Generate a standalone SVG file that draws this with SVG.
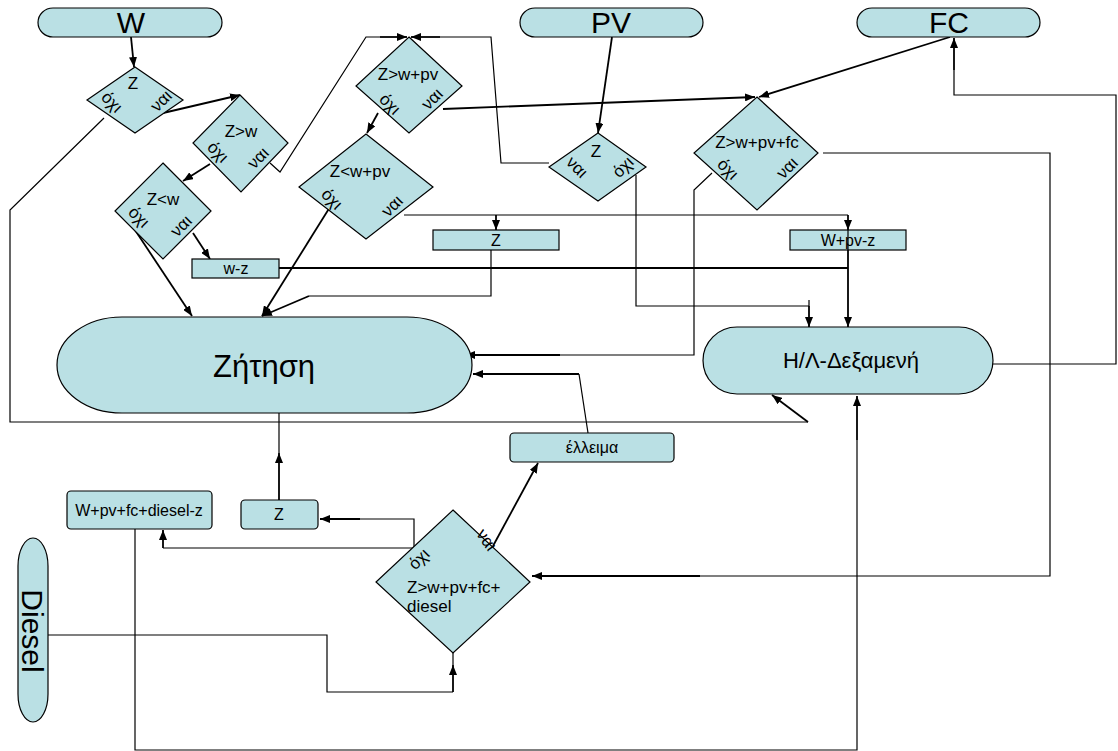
<svg xmlns="http://www.w3.org/2000/svg" width="1118" height="751" viewBox="0 0 1118 751">
<defs>
<marker id="ah" viewBox="0 0 10 8" refX="10" refY="4" markerWidth="10" markerHeight="8" markerUnits="userSpaceOnUse" orient="auto">
<path d="M0,0 L10,4 L0,8 Z" fill="#000"/>
</marker>
</defs>
<style>
.sh{fill:#bae0e4;stroke:#000;stroke-width:1.2}
.t{font-family:"Liberation Sans",Arial,sans-serif;fill:#000}
.big{font-size:30px;text-anchor:middle}
.d{font-size:17px;text-anchor:middle}
.lb{font-size:16px;text-anchor:middle}
.c{fill:none;stroke:#000;stroke-width:1.2}
.k{fill:none;stroke:#000;stroke-width:1.8}
.a{fill:none;stroke:#000;stroke-width:1.8;marker-end:url(#ah)}
</style>
<rect width="1118" height="751" fill="#fff"/>

<g id="connectors">
<path class="a" d="M131,37 L134,67"/>
<path class="a" d="M163,113 L240,95"/>
<path class="c" d="M104,118 L10,210 L10,422 L808,422"/>
<path class="a" d="M808,422 L772,395"/>
<path class="a" d="M210,164 L183,181"/>
<path class="c" d="M270,163 L280,172 L366,37 L380,37"/>
<path class="a" d="M380,37 L407,37"/>
<path class="c" d="M549,163 L501,163 L491,37 L440,37"/>
<path class="a" d="M440,37 L411,37"/>
<path class="a" d="M378,113 L367,133"/>
<path class="a" d="M443,109 L755,97"/>
<path class="a" d="M612,37 L598,133"/>
<path class="a" d="M950,37 L759,97"/>
<path class="c" d="M993,364 L1116,364 L1116,95 L954,95 L954,70"/>
<path class="a" d="M954,70 L954,38"/>
<path class="c" d="M404,215 L848,215"/>
<path class="a" d="M496,215 L496,230"/>
<path class="a" d="M848,215 L848,230"/>
<path class="c" d="M491,250 L491,296 L309,296"/>
<path class="a" d="M309,296 L262,316"/>
<path class="a" d="M330,207 L262,316"/>
<path class="a" d="M133,227 L192,316"/>
<path class="a" d="M193,233 L210,259"/>
<path class="k" d="M279,268 L848,268"/>
<path class="c" d="M636,175 L636,306 L809,306 L809,300"/>
<path class="a" d="M809,306 L809,327"/>
<path class="c" d="M712,173 L694,190 L694,355 L560,355"/>
<path class="a" d="M560,355 L465,355"/>
<path class="c" d="M823,153 L1050,153 L1050,576 L700,576"/>
<path class="a" d="M700,576 L532,576"/>
<path class="c" d="M588,433 L579,374"/>
<path class="a" d="M579,374 L473,374"/>
<path class="a" d="M493,546 L538,463"/>
<path class="c" d="M414,547 L414,519 L360,519"/>
<path class="a" d="M360,519 L320,519"/>
<path class="c" d="M414,548 L163,548"/>
<path class="a" d="M163,548 L163,530"/>
<path class="a" d="M279,500 L279,453"/>
<path class="c" d="M279,453 L279,413"/>
<path class="c" d="M48,635 L327,635 L327,692 L453,692"/>
<path class="a" d="M453,692 L453,665"/>
<path class="c" d="M453,665 L453,653"/>
<path class="c" d="M135,529 L135,750 L857,750 L857,440"/>
<path class="a" d="M857,440 L857,396"/>
</g>

<g id="W"><rect class="sh" x="38" y="8" width="184" height="29" rx="15" ry="14.5"/><text class="t big" x="131" y="33">W</text></g>
<g id="PV"><rect class="sh" x="520" y="8" width="183" height="29" rx="15" ry="14.5"/><text class="t big" x="611" y="33">PV</text></g>
<g id="FC"><rect class="sh" x="857" y="8" width="183" height="29" rx="15" ry="14.5"/><text class="t big" x="949" y="33">FC</text></g>
<g id="Diesel"><rect class="sh" x="18" y="538" width="30" height="184" rx="15" ry="28"/><text class="t big" transform="translate(22,631) rotate(90)" x="0" y="0">Diesel</text></g>

<g id="zitisi"><path class="sh" d="M122,317 L407,317 A65,48 0 0 1 407,413 L122,413 A65,48 0 0 1 122,317 Z"/><text class="t" x="264" y="377" font-size="31" text-anchor="middle">Ζήτηση</text></g>
<g id="dexameni"><rect class="sh" x="703" y="327" width="290" height="67" rx="34" ry="33.5"/><text class="t" x="851" y="368" font-size="22" text-anchor="middle">Η/Λ-Δεξαμενή</text></g>

<g id="d1"><path class="sh" d="M135,67 L183,100 L135,133 L87,100 Z"/>
<text class="t d" x="133" y="89">Z</text>
<text class="t d" transform="translate(108,106) rotate(45)">όχι</text>
<text class="t d" transform="translate(165,105) rotate(-45)">ναι</text></g>

<g id="d2"><path class="sh" d="M240,95 L288,143 L241,192 L193,143 Z"/>
<text class="t d" x="241" y="137">Z&gt;w</text>
<text class="t d" transform="translate(214,156) rotate(45)">όχι</text>
<text class="t d" transform="translate(262,162) rotate(-45)">ναι</text></g>

<g id="d3"><path class="sh" d="M163,163 L211,211 L163,259 L115,211 Z"/>
<text class="t d" x="163" y="205">Z&lt;w</text>
<text class="t d" transform="translate(135,221) rotate(45)">όχι</text>
<text class="t d" transform="translate(185,230) rotate(-45)">ναι</text></g>

<g id="d4"><path class="sh" d="M409,37 L462,86 L409,133 L356,86 Z"/>
<text class="t d" x="408" y="80">Z&gt;w+pv</text>
<text class="t d" transform="translate(386,108) rotate(45)">όχι</text>
<text class="t d" transform="translate(436,103) rotate(-45)">ναι</text></g>

<g id="d5"><path class="sh" d="M366,134 L433,187 L366,239 L299,187 Z"/>
<text class="t d" x="360" y="177">Z&lt;w+pv</text>
<text class="t d" transform="translate(328,203) rotate(45)">όχι</text>
<text class="t d" transform="translate(396,210) rotate(-45)">ναι</text></g>

<g id="d6"><path class="sh" d="M598,133 L646,167 L598,201 L549,167 Z"/>
<text class="t d" x="596" y="157">Z</text>
<text class="t d" transform="translate(573,171) rotate(45)">ναι</text>
<text class="t d" transform="translate(627,171) rotate(-45)">όχι</text></g>

<g id="d7"><path class="sh" d="M757,97 L818,153 L757,210 L694,153 Z"/>
<text class="t d" x="757" y="148">Z&gt;w+pv+fc</text>
<text class="t d" transform="translate(724,173) rotate(45)">όχι</text>
<text class="t d" transform="translate(791,172) rotate(-45)">ναι</text></g>

<g id="d8"><path class="sh" d="M453,510 L530,582 L453,653 L376,582 Z"/>
<text class="t" font-size="17" x="407" y="593">Z&gt;w+pv+fc+</text>
<text class="t" font-size="17" x="407" y="612">diesel</text>
<text class="t d" transform="translate(423,563) rotate(-45)">όχι</text>
<text class="t d" transform="translate(482,543) rotate(55)">ναι</text></g>

<g id="r-wz"><rect class="sh" x="192" y="259" width="87" height="19"/><text class="t lb" x="236" y="274">w-z</text></g>
<g id="r-z1"><rect class="sh" x="433" y="230" width="126" height="20"/><text class="t lb" x="496" y="246">Z</text></g>
<g id="r-wpvz"><rect class="sh" x="790" y="230" width="116" height="20"/><text class="t lb" x="848" y="246">W+pv-z</text></g>
<g id="r-elleima"><rect class="sh" x="510" y="433" width="164" height="29" rx="4"/><text class="t lb" x="592" y="453">έλλειμα</text></g>
<g id="r-all"><rect class="sh" x="67" y="491" width="145" height="38" rx="4"/><text class="t lb" x="139" y="516">W+pv+fc+diesel-z</text></g>
<g id="r-z2"><rect class="sh" x="241" y="500" width="77" height="29" rx="4"/><text class="t lb" x="279" y="520">Z</text></g>

<g id="overlay"><path class="a" d="M848,250 L848,327"/><path class="c" d="M848,230 L848,250"/></g>
</svg>
